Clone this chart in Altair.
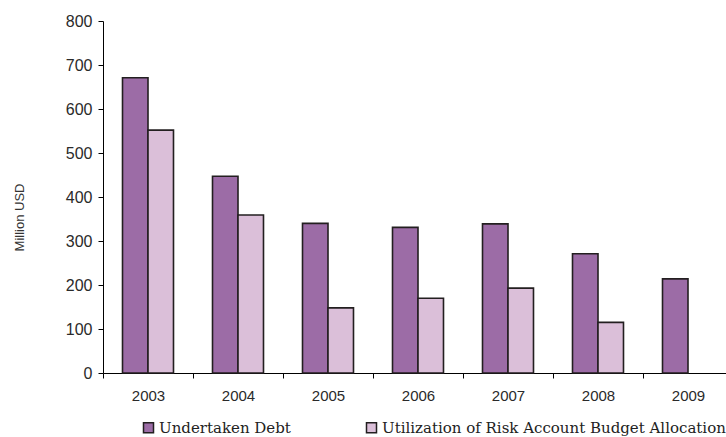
import altair as alt
import pandas as pd

years = ["2003", "2004", "2005", "2006", "2007", "2008", "2009"]
series = ["Undertaken Debt", "Utilization of Risk Account Budget Allocation"]
undertaken = [671, 447, 340, 331, 339, 271, 214]
utilization = [552, 359, 148, 170, 193, 115, None]
colors = ["#9C6CA6", "#DBBFD9"]

rows = []
for y, a, b in zip(years, undertaken, utilization):
    rows.append({"year": y, "series": series[0], "value": a})
    if b is not None:
        rows.append({"year": y, "series": series[1], "value": b})
df = pd.DataFrame(rows)

chart = alt.Chart(df).mark_bar(stroke="#231F20", strokeWidth=1.6).encode(
    x=alt.X("year:N", sort=years, title=None,
            scale=alt.Scale(domain=years, range=[0, 630], paddingInner=0, paddingOuter=0),
            axis=alt.Axis(labelAngle=0, tickBand="extent", tickSize=5, tickColor="#000",
                          domainColor="#000", labelFont="Liberation Sans", labelFontSize=15,
                          labelColor="#2a2a2a", labelPadding=10, grid=False)),
    xOffset=alt.XOffset("series:N", sort=series,
                        scale=alt.Scale(domain=series, paddingInner=0, paddingOuter=0.765)),
    y=alt.Y("value:Q", title="Million USD",
            scale=alt.Scale(domain=[0, 800], nice=False),
            axis=alt.Axis(values=list(range(0, 801, 100)), tickSize=5, tickColor="#000",
                          domainColor="#000", labelFont="Liberation Sans", labelFontSize=16,
                          labelColor="#2a2a2a", labelPadding=6, grid=False,
                          titleFont="Liberation Sans", titleFontSize=13, titleFontWeight="normal",
                          titleColor="#333", titleX=-84, titleY=196, titleAngle=270,
                          titleAlign="center", titleBaseline="middle")),
    color=alt.Color("series:N", sort=series,
                    scale=alt.Scale(domain=series, range=colors),
                    legend=alt.Legend(title=None, orient="none", legendX=38, legendY=399,
                                      direction="horizontal", symbolType="square",
                                      symbolSize=100, symbolStrokeColor="#231F20",
                                      symbolStrokeWidth=1.5, symbolOpacity=1,
                                      labelFont="DejaVu Serif", labelFontSize=15,
                                      labelColor="#222", labelOffset=3, columnPadding=72,
                                      padding=0, labelLimit=500)),
).properties(
    width=622,
    height=352,
    autosize=alt.AutoSizeParams(type="none"),
    padding={"left": 103, "top": 21, "right": 1, "bottom": 64},
).configure_view(stroke=None)

chart.save("out.html", embed_options={"renderer": "svg", "actions": False})
